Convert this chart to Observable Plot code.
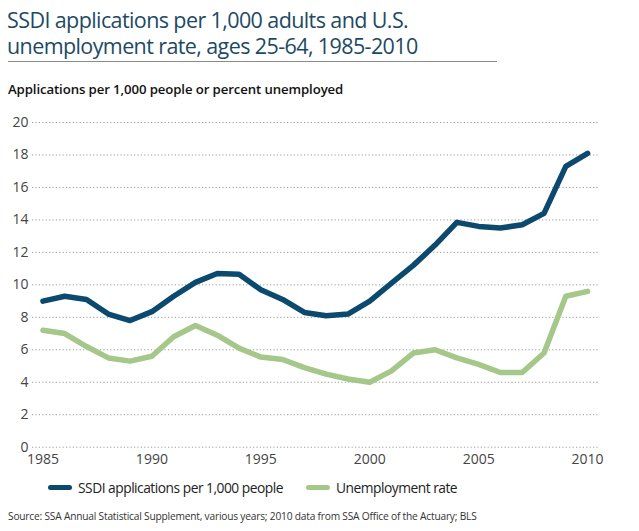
<!DOCTYPE html>
<html>
<head>
<meta charset="utf-8">
<script src="https://cdn.jsdelivr.net/npm/d3@7"></script>
<script src="https://cdn.jsdelivr.net/npm/@observablehq/plot@0.6"></script>
<style>
  html, body { margin: 0; padding: 0; background: #fff; }
  body { width: 639px; height: 531px; position: relative; font-family: "Open Sans", "Noto Sans", sans-serif; overflow: hidden; }
  .title { position: absolute; left: 7px; width: 600px; font-size: 21.5px; line-height: 24px; color: #1d4a63; font-weight: 400; letter-spacing: -0.6px; white-space: nowrap; }
  #t1 { top: 8px; }
  #t2 { top: 34px; }
  #rule { position: absolute; left: 8px; top: 61px; width: 489px; height: 0; border-top: 1px solid #8a8a8a; }
  #subtitle { position: absolute; left: 8px; top: 80px; font-size: 13.2px; font-weight: 600; color: #111; letter-spacing: -0.1px; }
  #chart { position: absolute; left: 0; top: 105px; }
  #legend { position: absolute; left: 48px; top: 478px; font-size: 13.8px; color: #222; display: flex; align-items: center; letter-spacing: -0.5px; }
  #legend .item { display: flex; align-items: center; margin-right: 23px; }
  #legend .sw { width: 24px; height: 5px; border-radius: 3px; margin-right: 6px; }
  #source { position: absolute; left: 8px; top: 509px; font-size: 10.2px; color: #333; letter-spacing: -0.2px; }
</style>
</head>
<body>
<div class="title" id="t1">SSDI applications per 1,000 adults and U.S.</div>
<div class="title" id="t2">unemployment rate, ages 25-64, 1985-2010</div>
<div id="rule"></div>
<div id="subtitle">Applications per 1,000 people or percent unemployed</div>
<div id="chart"></div>
<div id="legend"></div>
<div id="source">Source: SSA Annual Statistical Supplement, various years; 2010 data from SSA Office of the Actuary; BLS</div>
<script>
const years = [1985,1986,1987,1988,1989,1990,1991,1992,1993,1994,1995,1996,1997,1998,1999,2000,2001,2002,2003,2004,2005,2006,2007,2008,2009,2010];
const ssdi = [9.0,9.3,9.1,8.2,7.8,8.35,9.3,10.15,10.7,10.65,9.7,9.1,8.3,8.1,8.2,9.0,10.1,11.2,12.45,13.85,13.6,13.5,13.7,14.4,17.3,18.1];
const unemployment = [7.2,7.0,6.2,5.5,5.3,5.6,6.8,7.5,6.9,6.1,5.55,5.4,4.9,4.5,4.2,4.0,4.7,5.8,6.0,5.5,5.1,4.6,4.6,5.8,9.3,9.6];
const seriesNames = ["SSDI applications per 1,000 people", "Unemployment rate"];
const seriesColors = ["#0b4a6e", "#a6c78a"];
const yTicks = [0,2,4,6,8,10,12,14,16,18,20];
const xTicks = [1985,1990,1995,2000,2005,2010];

const data = [];
years.forEach((yr, i) => {
  data.push({year: yr, value: ssdi[i], series: seriesNames[0]});
  data.push({year: yr, value: unemployment[i], series: seriesNames[1]});
});

const chart = Plot.plot({
  width: 639,
  height: 367,
  marginLeft: 32,
  marginRight: 41,
  marginTop: 17,
  marginBottom: 25.3,
  style: {fontFamily: '"Open Sans", "Noto Sans", sans-serif', fontSize: "14px", color: "#444", background: "transparent"},
  x: {domain: [1984.52, 2010.5], ticks: xTicks, tickFormat: d => String(d), label: null},
  y: {domain: [0, 20], ticks: yTicks, label: null},
  color: {domain: seriesNames, range: seriesColors},
  marks: [
    Plot.gridY(yTicks, {stroke: "#9a9a9a", strokeOpacity: 1, strokeDasharray: "1.2,2.2", strokeWidth: 1}),
    Plot.axisY(yTicks, {tickSize: 0, tickPadding: 4, fontSize: 14, fill: "#444", label: null}),
    Plot.axisX(xTicks, {tickSize: 0, tickPadding: 7, fontSize: 14, fill: "#444", tickFormat: d => String(d), label: null}),
    Plot.line(data, {x: "year", y: "value", z: "series", stroke: "series", strokeWidth: 5.5, strokeLinejoin: "round", strokeLinecap: "round"})
  ]
});
document.getElementById("chart").appendChild(chart);

const legend = document.getElementById("legend");
seriesNames.forEach((name, i) => {
  const item = document.createElement("div");
  item.className = "item";
  const sw = document.createElement("div");
  sw.className = "sw";
  sw.style.background = seriesColors[i];
  const label = document.createElement("span");
  label.textContent = name;
  item.appendChild(sw);
  item.appendChild(label);
  legend.appendChild(item);
});
</script>
</body>
</html>
